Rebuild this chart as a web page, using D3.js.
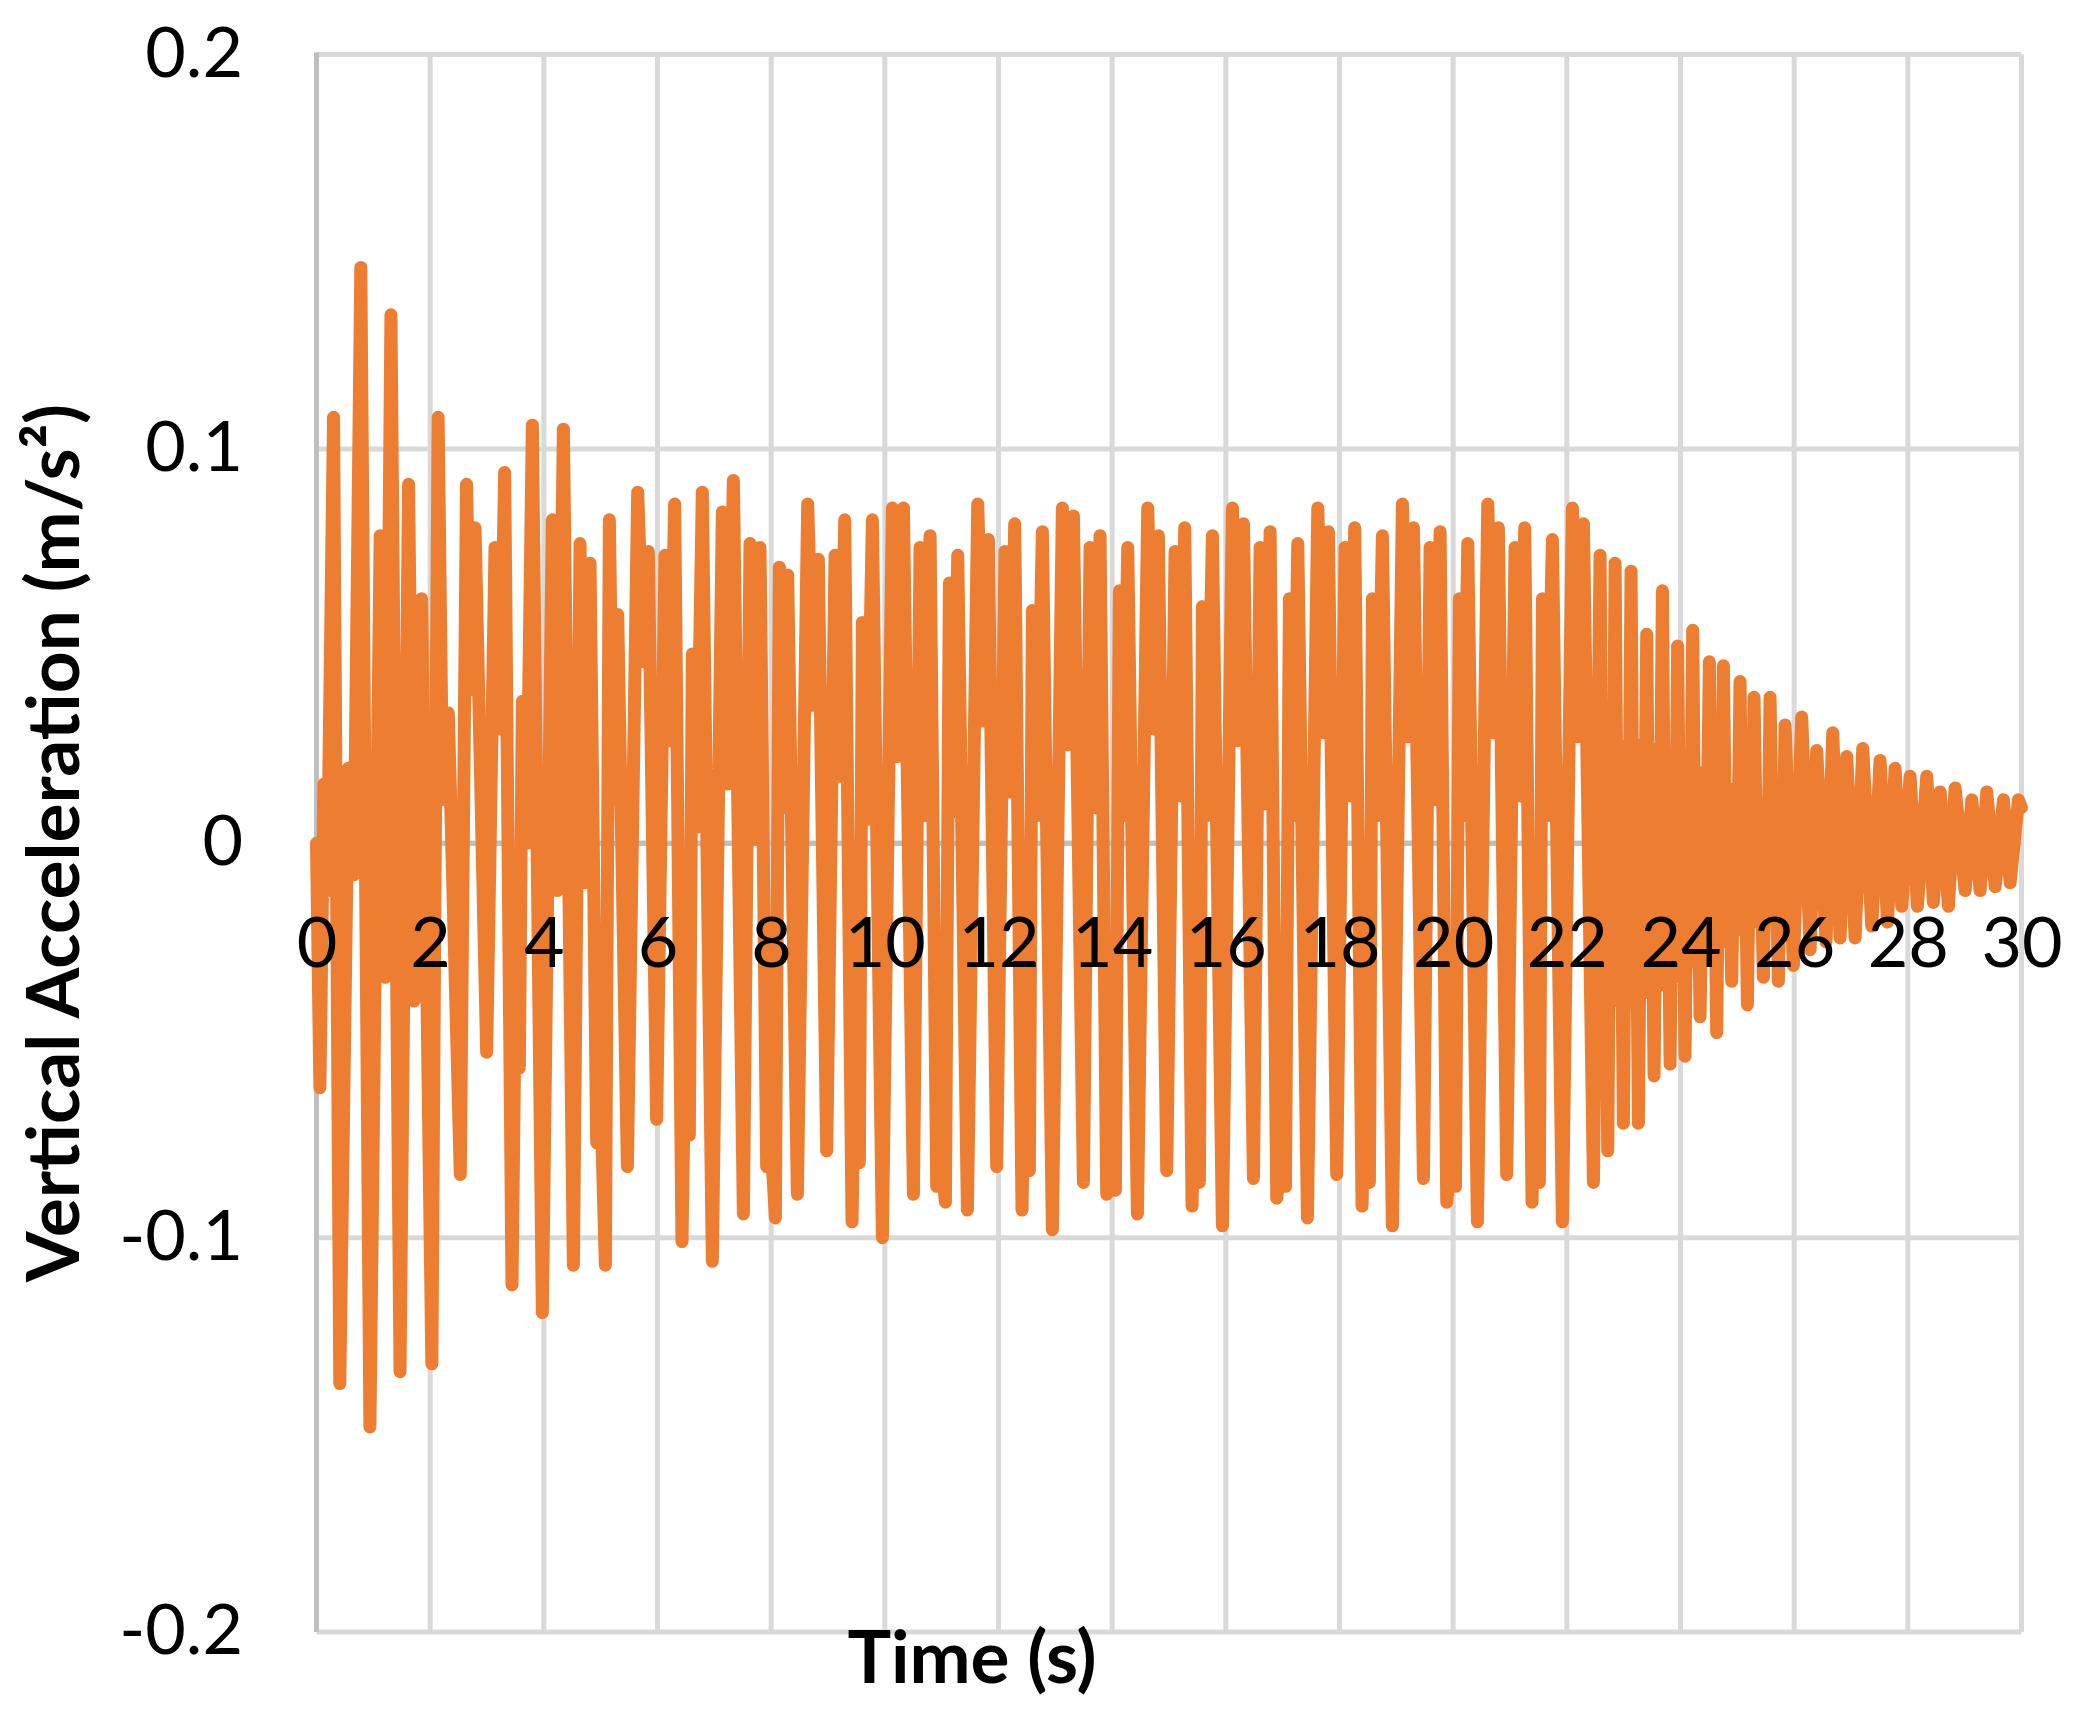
<!DOCTYPE html>
<html><head><meta charset="utf-8">
<script src="https://cdn.jsdelivr.net/npm/d3@7"></script>
<style>body{margin:0;background:#fff}svg{display:block}</style>
</head><body>
<svg id="chart" width="2085" height="1724"></svg>
<script>
// ---- data ----
const xTicks = [0,2,4,6,8,10,12,14,16,18,20,22,24,26,28,30];
const yTicks = [-0.2,-0.1,0,0.1,0.2];
const yTickLabels = ["-0.2","-0.1","0","0.1","0.2"];
const xTitle = "Time (s)";
const yTitle = "Vertical Acceleration (m/s²)";

const timeS = [
0.00,0.06,0.13,0.19,0.30,0.41,0.56,0.66,0.78,0.94,1.12,1.21,1.31,1.47,1.62,1.72,1.85,2.03,2.14,2.22,2.32,2.53,2.64,2.71,2.79,
2.994,3.141,3.229,3.311,3.440,3.505,3.569,3.622,3.698,3.798,3.974,4.150,4.238,4.344,4.520,4.637,4.725,4.813,4.930,5.001,5.083,5.153,5.223,5.300,5.470,5.652,5.751,5.839,
5.985,6.132,6.220,6.302,6.431,6.496,6.560,6.613,6.689,6.789,6.965,7.141,7.229,7.335,7.511,7.628,7.716,7.804,7.921,7.992,8.074,8.144,8.214,8.291,8.461,8.643,8.742,8.830,
8.977,9.124,9.212,9.294,9.423,9.488,9.552,9.605,9.681,9.781,9.957,10.133,10.221,10.327,10.503,10.620,10.708,10.796,10.913,10.984,11.066,11.136,11.206,11.283,11.453,11.635,11.734,11.822,
11.968,12.115,12.203,12.285,12.414,12.479,12.543,12.596,12.672,12.772,12.948,13.124,13.212,13.318,13.494,13.611,13.699,13.787,13.904,13.975,14.057,14.127,14.197,14.274,14.444,14.626,14.725,14.813,
14.960,15.107,15.195,15.277,15.406,15.471,15.535,15.588,15.664,15.764,15.940,16.116,16.204,16.310,16.486,16.603,16.691,16.779,16.896,16.967,17.049,17.119,17.189,17.266,17.436,17.618,17.717,17.805,
17.951,18.098,18.186,18.268,18.397,18.462,18.526,18.579,18.655,18.755,18.931,19.107,19.195,19.301,19.477,19.594,19.682,19.770,19.887,19.958,20.040,20.110,20.180,20.257,20.427,20.609,20.708,20.796,
20.942,21.089,21.177,21.259,21.388,21.453,21.517,21.570,21.646,21.746,21.922,22.098,22.186,22.292,22.468,
22.585,22.639,22.666,22.720,22.772,22.797,22.849,22.907,22.937,22.995,23.049,23.076,23.130,23.182,23.207,23.259,23.318,23.347,
23.406,23.458,23.483,23.535,23.594,23.623,23.682,23.736,23.763,23.817,23.870,23.897,23.950,24.002,24.028,24.080,24.134,24.161,
24.215,24.267,24.292,24.344,24.410,24.442,24.508,24.560,24.586,24.637,24.684,24.708,24.755,24.813,24.843,24.901,24.960,24.989,
25.048,25.100,25.125,25.177,25.224,25.247,25.294,25.360,25.392,25.458,25.505,25.529,25.576,25.634,25.664,25.722,25.769,25.793,
25.840,25.986,26.133,26.280,26.397,26.561,26.679,26.808,26.925,27.072,27.207,27.365,27.512,27.641,27.776,27.893,28.040,28.169,28.333,28.450,28.568,28.715,28.832,29.008,29.125,29.272,29.389,29.536,29.682,29.800,29.946,30.000
];
const accel = [
0.000,-0.062,0.015,-0.012,0.108,-0.137,0.019,-0.008,0.146,-0.148,0.078,-0.034,0.134,-0.134,0.091,-0.040,0.062,-0.132,0.108,0.011,0.033,-0.084,0.091,0.039,0.080,
-0.053,0.075,0.029,0.094,-0.112,-0.030,-0.057,0.036,0.000,0.106,-0.119,0.082,-0.012,0.105,-0.107,0.076,-0.010,0.071,-0.076,-0.064,-0.107,0.082,0.011,0.058,-0.082,0.089,0.046,0.074,
-0.070,0.073,0.026,0.086,-0.101,-0.040,-0.074,0.048,0.004,0.089,-0.106,0.084,0.015,0.092,-0.094,0.076,0.001,0.075,-0.082,-0.074,-0.095,0.070,0.009,0.068,-0.089,0.086,0.035,0.072,
-0.078,0.073,0.017,0.082,-0.096,-0.034,-0.081,0.056,0.006,0.082,-0.100,0.085,0.022,0.085,-0.089,0.075,0.007,0.078,-0.087,-0.078,-0.091,0.066,0.008,0.073,-0.093,0.086,0.031,0.077,
-0.082,0.074,0.013,0.081,-0.093,-0.034,-0.083,0.059,0.007,0.079,-0.098,0.085,0.025,0.083,-0.086,0.075,0.009,0.078,-0.089,-0.079,-0.088,0.064,0.007,0.075,-0.094,0.085,0.029,0.078,
-0.083,0.074,0.012,0.080,-0.092,-0.034,-0.086,0.060,0.007,0.078,-0.097,0.085,0.026,0.081,-0.085,0.075,0.010,0.079,-0.090,-0.080,-0.087,0.062,0.007,0.076,-0.095,0.085,0.028,0.079,
-0.084,0.075,0.012,0.080,-0.092,-0.034,-0.086,0.062,0.007,0.078,-0.097,0.086,0.027,0.080,-0.085,0.075,0.011,0.079,-0.091,-0.080,-0.087,0.062,0.007,0.076,-0.096,0.086,0.028,0.080,
-0.084,0.075,0.012,0.080,-0.091,-0.034,-0.086,0.062,0.007,0.077,-0.096,0.085,0.027,0.081,-0.086,
0.073,-0.040,0.022,-0.078,0.025,-0.035,0.071,-0.040,0.022,-0.071,0.025,-0.035,0.069,-0.040,0.022,-0.071,0.025,-0.035,
0.053,-0.038,0.020,-0.059,0.024,-0.034,0.064,-0.036,0.020,-0.056,0.022,-0.032,0.050,-0.034,0.018,-0.054,0.020,-0.030,
0.054,-0.030,0.016,-0.044,0.018,-0.026,0.046,-0.028,0.014,-0.048,0.016,-0.024,0.045,-0.025,0.013,-0.035,0.014,-0.022,
0.041,-0.022,0.012,-0.041,0.012,-0.020,0.037,-0.020,0.010,-0.034,0.010,-0.018,0.037,-0.018,0.008,-0.035,0.008,-0.016,
0.030,-0.031,0.032,-0.027,0.0235,-0.025,0.028,-0.024,0.022,-0.024,0.024,-0.021,0.021,-0.020,0.019,-0.016,0.017,-0.016,0.017,-0.015,0.013,-0.016,0.014,-0.012,0.011,-0.012,0.013,-0.011,0.011,-0.010,0.011,0.009
];

// ---- layout ----
const W = 2085, H = 1724;
const x = d3.scaleLinear().domain([0, 30]).range([316.5, 2021.5]);
const y = d3.scaleLinear().domain([-0.2, 0.2]).range([1632, 54.5]);
const svg = d3.select("#chart");
svg.append("rect").attr("width", W).attr("height", H).attr("fill", "#fff");

const FONT = "Lato, 'Open Sans', sans-serif";

// gridlines
const grid = svg.append("g");
grid.selectAll("line.h").data(yTicks).join("line")
  .attr("x1", x(0)).attr("x2", x(30))
  .attr("y1", d => y(d)).attr("y2", d => y(d))
  .attr("stroke", d => d === 0 ? "#BFBFBF" : "#D9D9D9").attr("stroke-width", 5);
grid.selectAll("line.v").data(xTicks).join("line")
  .attr("x1", d => x(d)).attr("x2", d => x(d))
  .attr("y1", y(0.2)).attr("y2", y(-0.2))
  .attr("stroke", d => d === 0 ? "#BFBFBF" : "#D9D9D9").attr("stroke-width", 5);
svg.append("line").attr("x1", x(0)).attr("x2", x(30)).attr("y1", y(0)).attr("y2", y(0))
  .attr("stroke", "#BFBFBF").attr("stroke-width", 5);
svg.append("line").attr("x1", x(0)).attr("x2", x(0)).attr("y1", y(0.2) - 2).attr("y2", y(-0.2))
  .attr("stroke", "#BFBFBF").attr("stroke-width", 5);

// data line
const pts = timeS.map((t, i) => [t, accel[i]]);
const line = d3.line().x(d => x(d[0])).y(d => y(d[1]));
svg.append("path").datum(pts)
  .attr("d", line).attr("fill", "none")
  .attr("stroke", "#ED7D31").attr("stroke-width", 13)
  .attr("stroke-linejoin", "round").attr("stroke-linecap", "round");

// y axis labels
const yAxis = d3.axisLeft(y).tickValues(yTicks).tickSize(0).tickPadding(0)
  .tickFormat(d => yTickLabels[yTicks.indexOf(d)]);
const gy = svg.append("g").attr("transform", "translate(243,0)").call(yAxis);
gy.select(".domain").remove();
gy.selectAll("text").attr("font-family", FONT).attr("font-size", 70).attr("fill", "#000")
  .attr("x", 0).attr("dy", null).attr("y", 21.5).attr("text-anchor", "end");

// x axis labels near zero line
const xAxis = d3.axisBottom(x).tickValues(xTicks).tickSize(0).tickPadding(0).tickFormat(d3.format("d"));
const gx = svg.append("g").attr("transform", `translate(0,${y(0)})`).call(xAxis);
gx.select(".domain").remove();
gx.selectAll("text").attr("font-family", FONT).attr("font-size", 70).attr("fill", "#000")
  .attr("dy", null).attr("y", 124);

// titles
svg.append("text").attr("x", 972).attr("y", 1683).attr("text-anchor", "middle")
  .attr("font-family", FONT).attr("font-weight", "bold").attr("font-size", 73).text(xTitle);
svg.append("text").attr("transform", "translate(79,843) rotate(-90)").attr("text-anchor", "middle")
  .attr("font-family", FONT).attr("font-weight", "bold").attr("font-size", 73).text(yTitle);
</script>
</body></html>
